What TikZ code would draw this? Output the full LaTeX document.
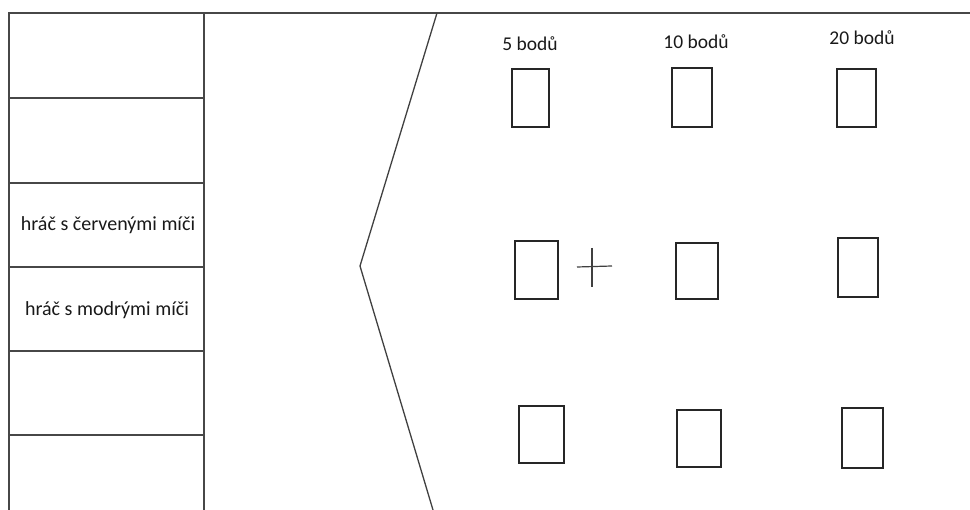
\documentclass[tikz,border=0pt]{standalone}
\usepackage{fontspec}
\setmainfont{Carlito}
\begin{document}
\begin{tikzpicture}[x=1pt,y=-1pt,
  frame/.style={draw=black!72,line width=1.3pt},
  card/.style={draw=black!85,line width=1.2pt,fill=none},
  lbl/.style={font=\fontsize{20}{24}\selectfont,text=black!90,inner sep=0pt},
  plbl/.style={font=\fontsize{19.5}{23}\selectfont,text=black!90,inner sep=0pt}]
\useasboundingbox (0,0) rectangle (970,510);
% table
\draw[frame] (9,510) -- (9,13) -- (970,13);
\draw[frame] (204,13) -- (204,510);
\foreach \yy in {98,183,267,351,435} \draw[frame] (9,\yy) -- (204,\yy);
\node[lbl] (red) at (108,225) {hráč s červenými míči};
\node[lbl] (blue) at (107,310) {hráč s modrými míči};
% bent line
\coordinate (t) at (437,13);
\coordinate (v) at (360,266);
\coordinate (b) at (433,510);
\draw[draw=black!75,line width=1.3pt] (t) -- (v) -- (b);
% labels
\node[plbl] (p5) at (530,44) {5 bodů};
\node[plbl] (p10) at (696,42) {10 bodů};
\node[plbl] (p20) at (862,38) {20 bodů};
% cards
\draw[card] (512,69) rectangle (549,127);
\draw[card] (672,68) rectangle (712,127);
\draw[card] (837,69) rectangle (876,127);
\draw[card] (515,241) rectangle (558,299);
\draw[card] (676,243) rectangle (718,299);
\draw[card] (838,238) rectangle (878,297);
\draw[card] (519,406) rectangle (564,463);
\draw[card] (677,410) rectangle (721,467);
\draw[card] (842,408) rectangle (883,468);
% cross
\draw[draw=black!75,line width=1.2pt] (577,267) -- (612,266);
\draw[draw=black!75,line width=1.2pt] (592,248) -- (592,287);
\end{tikzpicture}
\end{document}
